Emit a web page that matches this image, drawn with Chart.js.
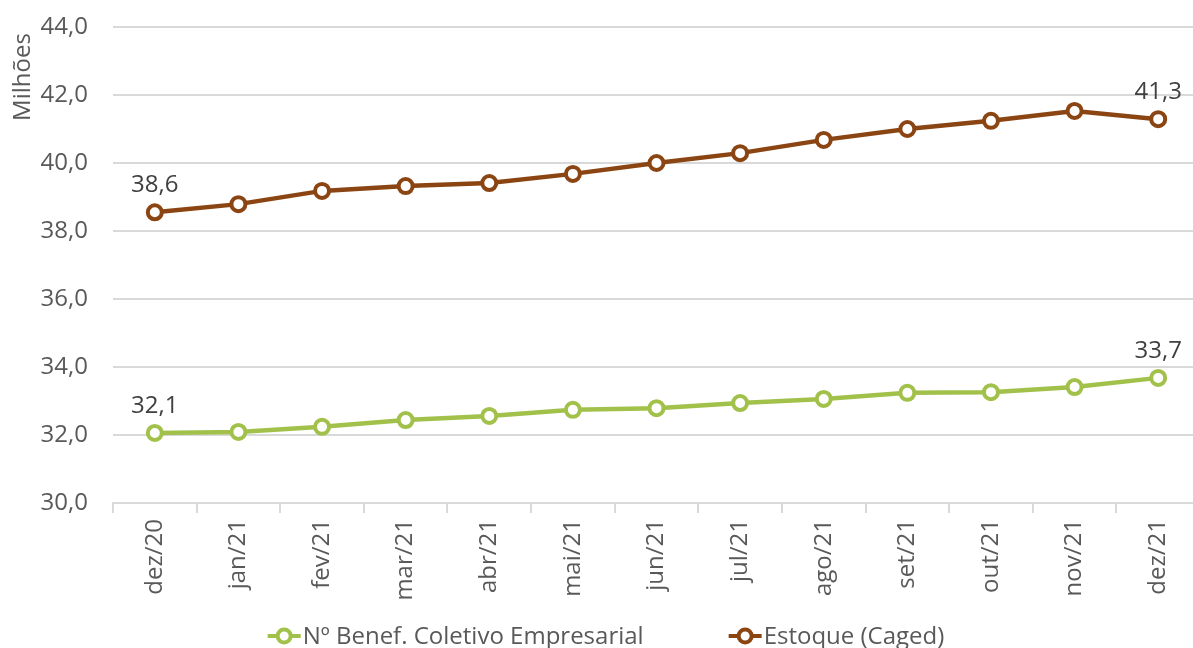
<!DOCTYPE html>
<html>
<head>
<meta charset="utf-8">
<script src="https://cdn.jsdelivr.net/npm/chart.js@4/dist/chart.umd.min.js"></script>
<style>
  html, body { margin: 0; padding: 0; background: #fff; overflow: hidden; }
  /* plot runs slightly past the right edge, as in the original */
  #wrap { width: 1211px; height: 648px; }
</style>
</head>
<body>
<div id="wrap"><canvas id="chart"></canvas></div>
<script>
// months on the x axis
const months = ['dez/20', 'jan/21', 'fev/21', 'mar/21', 'abr/21', 'mai/21', 'jun/21',
  'jul/21', 'ago/21', 'set/21', 'out/21', 'nov/21', 'dez/21'];

// millions of beneficiaries (coletivo empresarial)
const benefColetivo = [32.06, 32.09, 32.24, 32.44, 32.56, 32.74, 32.79, 32.94, 33.06, 33.24, 33.26, 33.41, 33.68];

// stock of formal jobs (Caged), millions
const estoqueCaged = [38.55, 38.79, 39.18, 39.32, 39.41, 39.68, 40.0, 40.29, 40.68, 41.0, 41.24, 41.53, 41.29];

const seriesNames = ['Nº Benef. Coletivo Empresarial', 'Estoque (Caged)'];
const yTitle = 'Milhões';
const greenColor = '#a2c14b';
const brownColor = '#8b4513';
const textColor = '#595959';
const fontFamily = '"Open Sans", sans-serif';

const fmt = (v) => (Math.round(v * 10) / 10).toFixed(1).replace('.', ',');

// labels on first and last point of each line
const endLabels = {
  id: 'endLabels',
  afterDatasetsDraw(chart) {
    const ctx = chart.ctx;
    ctx.save();
    ctx.font = '24px ' + fontFamily;
    ctx.fillStyle = '#404040';
    ctx.textAlign = 'center';
    ctx.textBaseline = 'alphabetic';
    chart.data.datasets.forEach((ds, i) => {
      const meta = chart.getDatasetMeta(i);
      [0, ds.data.length - 1].forEach((idx) => {
        const pt = meta.data[idx];
        ctx.fillText(fmt(ds.data[idx]), pt.x, pt.y - 20);
      });
    });
    ctx.restore();
  }
};

// y axis title sits at the top left, like excel does it
const yAxisTitle = {
  id: 'yAxisTitle',
  afterDraw(chart) {
    const ctx = chart.ctx;
    ctx.save();
    ctx.font = '24px ' + fontFamily;
    ctx.fillStyle = textColor;
    ctx.translate(23, 77);
    ctx.rotate(-Math.PI / 2);
    ctx.textAlign = 'center';
    ctx.textBaseline = 'middle';
    ctx.fillText(yTitle, 0, 0);
    ctx.restore();
  }
};

// excel-like legend: line + hollow marker, then the text
const bottomLegend = {
  id: 'bottomLegend',
  afterDraw(chart) {
    const ctx = chart.ctx;
    const y = 636;
    const markW = 33;
    const gapText = 2;
    const gapItems = 85;
    ctx.save();
    ctx.font = '24px ' + fontFamily;
    const items = chart.data.datasets.map((ds) => ({
      text: ds.label,
      color: ds.borderColor,
      w: ctx.measureText(ds.label).width
    }));
    let total = 0;
    items.forEach((it, i) => {
      total += markW + gapText + it.w + (i > 0 ? gapItems : 0);
    });
    let x = 606 - total / 2;
    items.forEach((it) => {
      ctx.strokeStyle = it.color;
      ctx.lineWidth = 4;
      ctx.beginPath();
      ctx.moveTo(x, y);
      ctx.lineTo(x + markW, y);
      ctx.stroke();
      ctx.fillStyle = '#fff';
      ctx.lineWidth = 4;
      ctx.beginPath();
      ctx.arc(x + markW / 2, y, 6.5, 0, Math.PI * 2);
      ctx.fill();
      ctx.stroke();
      ctx.fillStyle = textColor;
      ctx.textAlign = 'left';
      ctx.textBaseline = 'middle';
      ctx.fillText(it.text, x + markW + gapText, y + 1);
      x += markW + gapText + it.w + gapItems;
    });
    ctx.restore();
  }
};

Chart.defaults.font.family = fontFamily;
Chart.defaults.font.size = 24;
Chart.defaults.color = textColor;

new Chart(document.getElementById('chart'), {
  type: 'line',
  data: {
    labels: months,
    datasets: [
      {
        label: seriesNames[0],
        data: benefColetivo,
        borderColor: greenColor,
        backgroundColor: '#fff',
        borderWidth: 4.5,
        pointRadius: 7,
        pointBorderWidth: 4,
        pointBackgroundColor: '#fff'
      },
      {
        label: seriesNames[1],
        data: estoqueCaged,
        borderColor: brownColor,
        backgroundColor: '#fff',
        borderWidth: 4.5,
        pointRadius: 7,
        pointBorderWidth: 4,
        pointBackgroundColor: '#fff'
      }
    ]
  },
  options: {
    responsive: true,
    maintainAspectRatio: false,
    animation: false,
    layout: { padding: { top: 27, right: 0, bottom: 0, left: 0 } },
    plugins: {
      tooltip: { enabled: false },
      legend: { display: false }
    },
    scales: {
      x: {
        offset: true,
        grid: {
          offset: true,
          drawOnChartArea: false,
          drawTicks: true,
          tickLength: 10,
          color: '#d9d9d9',
          lineWidth: 2
        },
        border: { color: '#d9d9d9', width: 2 },
        ticks: {
          maxRotation: 90,
          minRotation: 90,
          padding: 6,
          color: textColor
        },
        afterFit(scale) {
          scale.height = 145;
        }
      },
      y: {
        min: 30,
        max: 44,
        ticks: {
          stepSize: 2,
          padding: 25,
          color: textColor,
          callback: (v) => fmt(v)
        },
        grid: {
          color: '#d9d9d9',
          lineWidth: 2,
          drawTicks: false
        },
        border: { display: false },
        afterFit(scale) {
          scale.width = 113;
          scale.paddingTop = 0;
          scale.paddingBottom = 0;
        }
      }
    }
  },
  plugins: [endLabels, yAxisTitle, bottomLegend]
});
</script>
</body>
</html>
